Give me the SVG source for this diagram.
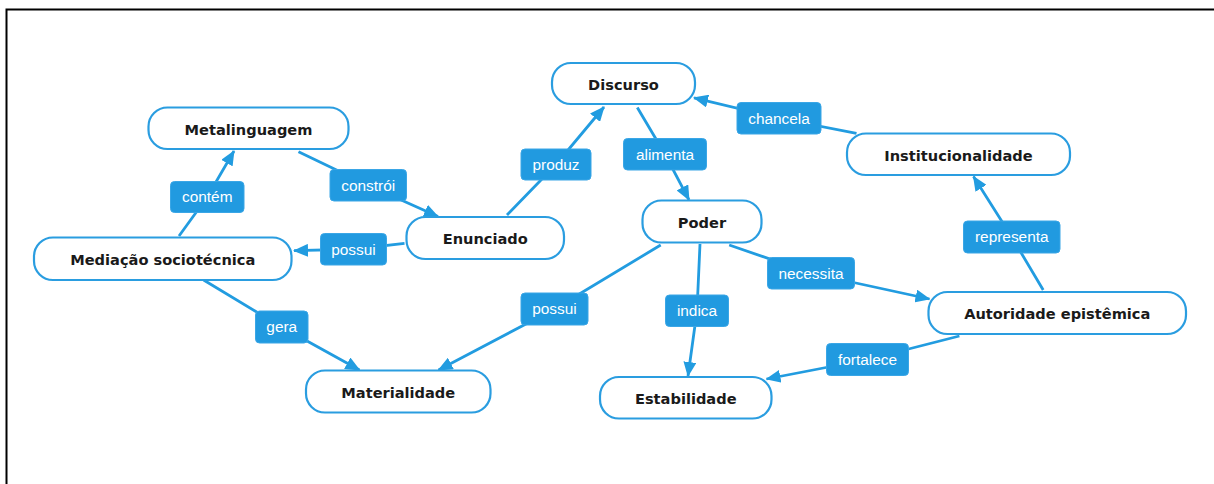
<svg xmlns="http://www.w3.org/2000/svg" width="1214" height="484" viewBox="0 0 1214 484">
<style>
.node rect{fill:#fff;stroke:#2a9de0;stroke-width:2.2}
.node text{font-family:"DejaVu Sans",Verdana,sans-serif;font-weight:bold;font-size:14.6px;fill:#1a1a1a;text-anchor:middle}
.lbl rect{fill:#219ae0;stroke:#3aa6e6;stroke-width:1}
.lbl text{font-family:"Liberation Sans",Arial,sans-serif;font-size:15.4px;fill:#fff;text-anchor:middle}
.conn polyline{fill:none;stroke:#229ce0;stroke-width:2.8}
</style>
<defs>
<marker id="arr" markerUnits="userSpaceOnUse" markerWidth="15" markerHeight="13" viewBox="0 0 15 13" refX="14" refY="6.5" orient="auto">
<path d="M0,0 L15,6.5 L0,13 z" fill="#229ce0"/>
</marker>
</defs>
<rect x="0" y="0" width="1214" height="484" fill="#fff"/>
<rect x="6.5" y="9.5" width="1400" height="700" fill="none" stroke="#000" stroke-width="2"/>
<g id="connectors" class="conn">
<polyline points="179,236 207.25,197 234,151" marker-end="url(#arr)"/>
<polyline points="298.5,151.7 368.25,185.25 438,216.5" marker-end="url(#arr)"/>
<polyline points="507,215 556,164.5 604,107" marker-end="url(#arr)"/>
<polyline points="637.3,107.5 665,154.25 689,199.8" marker-end="url(#arr)"/>
<polyline points="856.5,133.3 779,118.25 694,97.8" marker-end="url(#arr)"/>
<polyline points="1043.2,290 1011.75,237 973.5,176.5" marker-end="url(#arr)"/>
<polyline points="404.5,243.3 353.5,249.25 294,250.7" marker-end="url(#arr)"/>
<polyline points="203.6,280 281.75,327 359.5,370" marker-end="url(#arr)"/>
<polyline points="660.7,245 554.5,309 438.5,370" marker-end="url(#arr)"/>
<polyline points="700,244 697,310.75 688,376" marker-end="url(#arr)"/>
<polyline points="729.2,245 811,273.25 929.5,299" marker-end="url(#arr)"/>
<polyline points="959.4,336 867.5,359.5 766.5,379" marker-end="url(#arr)"/>
</g>
<g id="labels">
<g id="lbl-contem" class="lbl"><rect x="170.5" y="181.5" width="73.5" height="31" rx="4"/><text x="207.25" y="202.3">contém</text></g>
<g id="lbl-constroi" class="lbl"><rect x="330" y="169.5" width="76.5" height="31.5" rx="4"/><text x="368.25" y="190.5">constrói</text></g>
<g id="lbl-produz" class="lbl"><rect x="521" y="149" width="70" height="31" rx="4"/><text x="556" y="169.8">produz</text></g>
<g id="lbl-chancela" class="lbl"><rect x="737" y="102.5" width="84" height="31.5" rx="4"/><text x="779" y="123.5">chancela</text></g>
<g id="lbl-alimenta" class="lbl"><rect x="623.5" y="138.5" width="83" height="31.5" rx="4"/><text x="665" y="159.5">alimenta</text></g>
<g id="lbl-representa" class="lbl"><rect x="963.5" y="221" width="96.5" height="32" rx="4"/><text x="1011.75" y="242.3">representa</text></g>
<g id="lbl-possui1" class="lbl"><rect x="320.5" y="233.5" width="66" height="31.5" rx="4"/><text x="353.5" y="254.5">possui</text></g>
<g id="lbl-necessita" class="lbl"><rect x="767.5" y="257.5" width="87" height="31.5" rx="4"/><text x="811" y="278.5">necessita</text></g>
<g id="lbl-indica" class="lbl"><rect x="665.5" y="295" width="63" height="31.5" rx="4"/><text x="697" y="316">indica</text></g>
<g id="lbl-possui2" class="lbl"><rect x="521" y="293" width="67" height="32" rx="4"/><text x="554.5" y="314.3">possui</text></g>
<g id="lbl-gera" class="lbl"><rect x="255.5" y="311" width="52.5" height="32" rx="4"/><text x="281.75" y="332.3">gera</text></g>
<g id="lbl-fortalece" class="lbl"><rect x="826.5" y="343.5" width="82" height="32" rx="4"/><text x="867.5" y="364.8">fortalece</text></g>
</g>
<g id="n-discurso" class="node"><rect x="552" y="63" width="143" height="41" rx="19"/><text x="623.5" y="89.5">Discurso</text></g>
<g id="n-metalinguagem" class="node"><rect x="148.5" y="107.5" width="200" height="41.5" rx="19"/><text x="248.5" y="134.5">Metalinguagem</text></g>
<g id="n-institucionalidade" class="node"><rect x="847" y="133.5" width="223" height="41.5" rx="19"/><text x="958.5" y="160.5">Institucionalidade</text></g>
<g id="n-enunciado" class="node"><rect x="406.5" y="217" width="157.5" height="42" rx="19"/><text x="485.25" y="244.3">Enunciado</text></g>
<g id="n-poder" class="node"><rect x="642.5" y="200.5" width="119" height="42" rx="19"/><text x="702" y="227.8">Poder</text></g>
<g id="n-mediacao" class="node"><rect x="34" y="237.5" width="257.5" height="42.5" rx="19"/><text x="162.75" y="265">Mediação sociotécnica</text></g>
<g id="n-autoridade" class="node"><rect x="928.5" y="292" width="257.5" height="42" rx="19"/><text x="1057.25" y="319.3">Autoridade epistêmica</text></g>
<g id="n-materialidade" class="node"><rect x="306" y="370.5" width="184.5" height="42" rx="19"/><text x="398.25" y="397.8">Materialidade</text></g>
<g id="n-estabilidade" class="node"><rect x="600" y="377" width="171.5" height="41.5" rx="19"/><text x="685.75" y="404">Estabilidade</text></g>
</svg>
